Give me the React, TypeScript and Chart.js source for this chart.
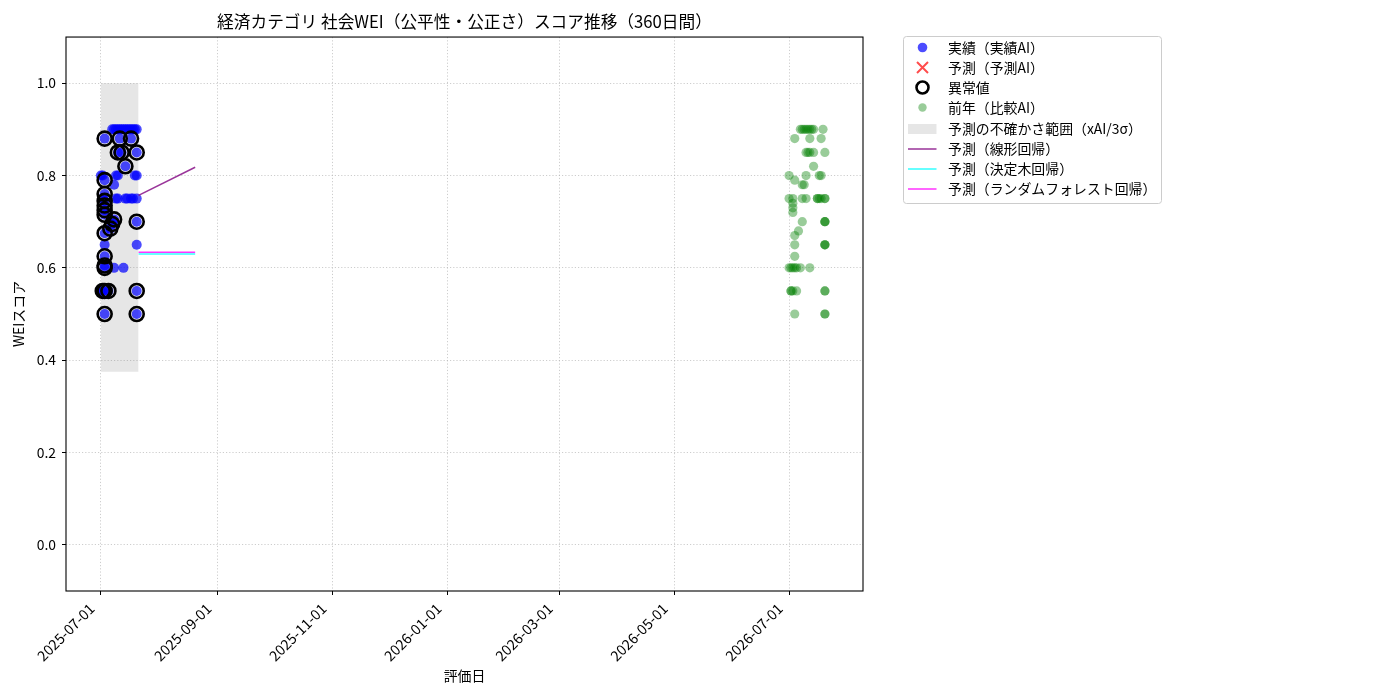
import React, { useEffect, useRef } from 'react';
import { Chart, registerables } from 'chart.js';

Chart.register(...registerables);

const FONT = '"Noto Sans CJK JP", "Noto Sans", sans-serif';

const TITLE = '経済カテゴリ 社会WEI（公平性・公正さ）スコア推移（360日間）';
const X_LABEL = '評価日';
const Y_LABEL = 'WEIスコア';

const X_TICK_DATES = ['2025-07-01', '2025-09-01', '2025-11-01', '2026-01-01', '2026-03-01', '2026-05-01', '2026-07-01'];
const Y_TICKS = [0, 0.2, 0.4, 0.6, 0.8, 1.0];
const X_MIN = '2025-06-12T12:00';
const X_MAX = '2026-08-09T05:00';
const Y_MIN = -0.1;
const Y_MAX = 1.1;

// 実績（実績AI）
const actualDates = [
  '2025-07-01', '2025-07-01',
  '2025-07-02', '2025-07-02', '2025-07-02',
  '2025-07-03', '2025-07-03', '2025-07-03', '2025-07-03', '2025-07-03', '2025-07-03', '2025-07-03',
  '2025-07-03', '2025-07-03', '2025-07-03', '2025-07-03', '2025-07-03', '2025-07-03', '2025-07-03',
  '2025-07-05',
  '2025-07-06',
  '2025-07-07', '2025-07-07',
  '2025-07-08', '2025-07-08', '2025-07-08', '2025-07-08', '2025-07-08',
  '2025-07-09', '2025-07-09', '2025-07-09',
  '2025-07-10', '2025-07-10', '2025-07-10', '2025-07-10',
  '2025-07-11', '2025-07-11',
  '2025-07-12', '2025-07-12',
  '2025-07-13', '2025-07-13',
  '2025-07-14', '2025-07-14', '2025-07-14',
  '2025-07-15', '2025-07-15',
  '2025-07-16',
  '2025-07-17', '2025-07-17', '2025-07-17',
  '2025-07-18', '2025-07-18',
  '2025-07-19', '2025-07-19',
  '2025-07-20', '2025-07-20', '2025-07-20', '2025-07-20', '2025-07-20', '2025-07-20', '2025-07-20', '2025-07-20',
];
const actualValues = [
  0.80, 0.55,
  0.80, 0.75, 0.55,
  0.88, 0.79, 0.76, 0.745, 0.735, 0.725, 0.715,
  0.675, 0.65, 0.625, 0.605, 0.60, 0.55, 0.50,
  0.55,
  0.685,
  0.90, 0.695,
  0.90, 0.78, 0.705, 0.70, 0.60,
  0.90, 0.80, 0.75,
  0.90, 0.85, 0.80, 0.75,
  0.90, 0.88,
  0.90, 0.85,
  0.90, 0.60,
  0.90, 0.82, 0.75,
  0.90, 0.75,
  0.90,
  0.90, 0.88, 0.75,
  0.90, 0.75,
  0.90, 0.80,
  0.90, 0.85, 0.80, 0.75, 0.70, 0.65, 0.55, 0.50,
];

// 予測（予測AI）— no points visible
const predictedDates: string[] = [];
const predictedValues: number[] = [];

// 異常値
const outlierDates = [
  '2025-07-02',
  '2025-07-03', '2025-07-03', '2025-07-03', '2025-07-03', '2025-07-03', '2025-07-03', '2025-07-03',
  '2025-07-03', '2025-07-03', '2025-07-03', '2025-07-03', '2025-07-03', '2025-07-03',
  '2025-07-05', '2025-07-06', '2025-07-07', '2025-07-08',
  '2025-07-10', '2025-07-11', '2025-07-12', '2025-07-14', '2025-07-17',
  '2025-07-20', '2025-07-20', '2025-07-20', '2025-07-20',
];
const outlierValues = [
  0.55,
  0.88, 0.79, 0.76, 0.745, 0.735, 0.725, 0.715,
  0.675, 0.625, 0.605, 0.60, 0.55, 0.50,
  0.55, 0.685, 0.695, 0.705,
  0.85, 0.88, 0.85, 0.82, 0.88,
  0.85, 0.70, 0.55, 0.50,
];

// 前年（比較AI）
const prevDates = [
  '2026-07-01', '2026-07-01', '2026-07-01',
  '2026-07-02', '2026-07-02', '2026-07-02',
  '2026-07-03', '2026-07-03', '2026-07-03', '2026-07-03', '2026-07-03', '2026-07-03',
  '2026-07-04', '2026-07-04', '2026-07-04', '2026-07-04', '2026-07-04', '2026-07-04', '2026-07-04',
  '2026-07-05', '2026-07-05',
  '2026-07-06',
  '2026-07-07', '2026-07-07',
  '2026-07-08', '2026-07-08', '2026-07-08', '2026-07-08',
  '2026-07-09', '2026-07-09',
  '2026-07-10', '2026-07-10', '2026-07-10', '2026-07-10',
  '2026-07-11', '2026-07-11',
  '2026-07-12', '2026-07-12', '2026-07-12', '2026-07-12',
  '2026-07-13',
  '2026-07-14', '2026-07-14', '2026-07-14',
  '2026-07-16', '2026-07-16',
  '2026-07-17', '2026-07-17',
  '2026-07-18', '2026-07-18', '2026-07-18',
  '2026-07-19',
  '2026-07-20', '2026-07-20', '2026-07-20', '2026-07-20', '2026-07-20', '2026-07-20', '2026-07-20',
  '2026-07-20', '2026-07-20', '2026-07-20', '2026-07-20', '2026-07-20', '2026-07-20',
];
const prevValues = [
  0.80, 0.75, 0.60,
  0.60, 0.55, 0.55,
  0.75, 0.74, 0.73, 0.72, 0.60, 0.55,
  0.88, 0.79, 0.67, 0.65, 0.625, 0.60, 0.50,
  0.60, 0.55,
  0.68,
  0.90, 0.60,
  0.90, 0.78, 0.75, 0.70,
  0.90, 0.78,
  0.90, 0.85, 0.80, 0.75,
  0.90, 0.85,
  0.90, 0.88, 0.85, 0.60,
  0.90,
  0.90, 0.85, 0.82,
  0.75, 0.75,
  0.80, 0.75,
  0.88, 0.80, 0.75,
  0.90,
  0.85, 0.75, 0.75, 0.70, 0.70, 0.70, 0.65,
  0.65, 0.65, 0.55, 0.55, 0.50, 0.50,
];

// 予測の不確かさ範囲（xAI/3σ）
const bandDates = ['2025-07-01', '2025-07-21'];
const bandUpper = [1.0, 1.0];
const bandLower = 0.375;

// 予測ライン
const forecastDates = ['2025-07-21', '2025-08-20'];
const linearValues = [0.757, 0.818];
const treeValues = [0.630, 0.630];
const forestValues = [0.634, 0.634];

const LEGEND_LABELS = [
  '実績（実績AI）',
  '予測（予測AI）',
  '異常値',
  '前年（比較AI）',
  '予測の不確かさ範囲（xAI/3σ）',
  '予測（線形回帰）',
  '予測（決定木回帰）',
  '予測（ランダムフォレスト回帰）',
];

const C_BLUE = 'rgba(0,0,255,0.7)';
const C_RED = 'rgba(255,0,0,0.7)';
const C_GREEN = 'rgba(0,128,0,0.4)';
const C_BAND = 'rgba(128,128,128,0.2)';
const C_PURPLE = 'rgba(128,0,128,0.8)';
const C_CYAN = 'rgba(0,255,255,0.8)';
const C_MAGENTA = 'rgba(255,0,255,0.8)';

const ts = (d: string) => Date.parse(d.length > 10 ? d + ':00Z' : d + 'T00:00:00Z');
const pts = (dates: string[], vals: number[]) => dates.map((d, i) => ({ x: ts(d), y: vals[i] }));
const fmtDate = (v: number) => new Date(v).toISOString().slice(0, 10);

const framePlugin = {
  id: 'frame',
  afterDatasetsDraw(chart: any) {
    const { ctx, chartArea } = chart;
    const { left, top, right, bottom } = chartArea;
    ctx.save();
    ctx.strokeStyle = '#000';
    ctx.lineWidth = 1.1;
    ctx.strokeRect(left, top, right - left, bottom - top);
    ctx.restore();
  },
};

const legendPlugin = {
  id: 'mplLegend',
  afterDraw(chart: any) {
    const ctx = chart.ctx as CanvasRenderingContext2D;
    ctx.save();
    const x0 = 903.5, y0 = 36.5, w = 258, h = 167;
    ctx.beginPath();
    (ctx as any).roundRect(x0, y0, w, h, 3);
    ctx.fillStyle = 'rgba(255,255,255,0.8)';
    ctx.fill();
    ctx.strokeStyle = '#cccccc';
    ctx.lineWidth = 1;
    ctx.stroke();

    const mx = 922.5;
    const lx0 = 908, lx1 = 936.5;
    const rowY = (i: number) => 47.5 + 20 * i + (i >= 4 ? 1.5 : 0);
    LEGEND_LABELS.forEach((label, i) => {
      const y = rowY(i);
      ctx.save();
      if (i === 0 || i === 3) {
        ctx.beginPath();
        ctx.arc(mx, y, i === 0 ? 4.8 : 4.2, 0, Math.PI * 2);
        ctx.fillStyle = i === 0 ? C_BLUE : C_GREEN;
        ctx.fill();
      } else if (i === 1) {
        ctx.strokeStyle = C_RED;
        ctx.lineWidth = 2;
        ctx.beginPath();
        ctx.moveTo(mx - 5.5, y - 5.5); ctx.lineTo(mx + 5.5, y + 5.5);
        ctx.moveTo(mx + 5.5, y - 5.5); ctx.lineTo(mx - 5.5, y + 5.5);
        ctx.stroke();
      } else if (i === 2) {
        ctx.strokeStyle = '#000';
        ctx.lineWidth = 2.6;
        ctx.beginPath();
        ctx.arc(mx, y, 6, 0, Math.PI * 2);
        ctx.stroke();
      } else if (i === 4) {
        ctx.fillStyle = C_BAND;
        ctx.fillRect(lx0, y - 5, lx1 - lx0, 10);
      } else {
        ctx.strokeStyle = i === 5 ? C_PURPLE : i === 6 ? C_CYAN : C_MAGENTA;
        ctx.lineWidth = 1.5;
        ctx.beginPath();
        ctx.moveTo(lx0, y); ctx.lineTo(lx1, y);
        ctx.stroke();
      }
      ctx.restore();
      ctx.fillStyle = '#000';
      ctx.font = `13.9px ${FONT}`;
      ctx.textAlign = 'left';
      ctx.textBaseline = 'middle';
      ctx.fillText(label, 948, y);
    });
    ctx.restore();
  },
};

export default function App() {
  const ref = useRef<HTMLCanvasElement>(null);
  useEffect(() => {
    const canvas = ref.current;
    if (!canvas) return;
    const tickFont = { family: FONT, size: 13.9 };
    const xTickFont = { family: FONT, size: 14.4 };
    const chart = new Chart(canvas, {
      type: 'scatter',
      data: {
        datasets: [
          {
            type: 'line',
            label: LEGEND_LABELS[4],
            data: pts(bandDates, bandUpper),
            fill: { value: bandLower },
            backgroundColor: C_BAND,
            borderColor: 'transparent',
            borderWidth: 0,
            pointRadius: 0,
            order: 10,
          } as any,
          {
            label: LEGEND_LABELS[0],
            data: pts(actualDates, actualValues),
            backgroundColor: C_BLUE,
            borderWidth: 0,
            pointRadius: 5,
            order: 8,
          },
          {
            label: LEGEND_LABELS[1],
            data: pts(predictedDates, predictedValues),
            pointStyle: 'crossRot',
            borderColor: C_RED,
            borderWidth: 2,
            pointRadius: 6,
            order: 7,
          },
          {
            label: LEGEND_LABELS[3],
            data: pts(prevDates, prevValues),
            backgroundColor: C_GREEN,
            borderWidth: 0,
            pointRadius: 4.6,
            order: 6,
          },
          {
            label: LEGEND_LABELS[2],
            data: pts(outlierDates, outlierValues),
            backgroundColor: 'transparent',
            borderColor: '#000',
            borderWidth: 2.6,
            pointRadius: 7,
            order: 5,
          },
          {
            type: 'line',
            label: LEGEND_LABELS[5],
            data: pts(forecastDates, linearValues),
            borderColor: C_PURPLE,
            borderWidth: 1.5,
            pointRadius: 0,
            fill: false,
            order: 3,
          } as any,
          {
            type: 'line',
            label: LEGEND_LABELS[6],
            data: pts(forecastDates, treeValues),
            borderColor: C_CYAN,
            borderWidth: 1.5,
            pointRadius: 0,
            fill: false,
            order: 2,
          } as any,
          {
            type: 'line',
            label: LEGEND_LABELS[7],
            data: pts(forecastDates, forestValues),
            borderColor: C_MAGENTA,
            borderWidth: 1.5,
            pointRadius: 0,
            fill: false,
            order: 1,
          } as any,
        ],
      },
      options: {
        responsive: false,
        animation: false,
        events: [],
        layout: { padding: { top: 0, right: 537, bottom: 0, left: 0 } },
        plugins: {
          legend: { display: false },
          tooltip: { enabled: false },
          title: {
            display: true,
            text: TITLE,
            fullSize: false,
            color: '#000',
            font: { family: FONT, size: 16.7, weight: 'normal' },
            padding: { top: 12, bottom: 5 },
          },
        },
        scales: {
          x: {
            type: 'linear',
            min: ts(X_MIN),
            max: ts(X_MAX),
            afterBuildTicks: (axis: any) => {
              axis.ticks = X_TICK_DATES.map((d) => ({ value: ts(d) }));
            },
            afterFit: (axis: any) => {
              axis.height = 109;
            },
            ticks: {
              autoSkip: false,
              maxRotation: 45,
              minRotation: 45,
              padding: 5,
              labelOffset: -9,
              color: '#000',
              font: xTickFont,
              callback: (v: any) => fmtDate(Number(v)),
            },
            grid: {
              color: 'rgba(176,176,176,0.8)',
              lineWidth: 0.8,
              drawTicks: true,
              tickLength: 4,
              tickColor: '#000',
              tickWidth: 1,
            },
            border: { display: false, dash: [1.2, 2] },
            title: {
              display: true,
              text: X_LABEL,
              color: '#000',
              font: tickFont,
              padding: { top: 0, bottom: 16 },
            },
          },
          y: {
            type: 'linear',
            min: Y_MIN,
            max: Y_MAX,
            afterBuildTicks: (axis: any) => {
              axis.ticks = Y_TICKS.map((v) => ({ value: v }));
            },
            afterFit: (axis: any) => {
              axis.width = 66;
            },
            ticks: {
              padding: 6,
              color: '#000',
              font: tickFont,
              callback: (v: any) => Number(v).toFixed(1),
            },
            grid: {
              color: 'rgba(176,176,176,0.8)',
              lineWidth: 0.8,
              drawTicks: true,
              tickLength: 4,
              tickColor: '#000',
              tickWidth: 1,
            },
            border: { display: false, dash: [1.2, 2] },
            title: {
              display: true,
              text: Y_LABEL,
              color: '#000',
              font: tickFont,
              padding: { top: 10, bottom: 0 },
            },
          },
        },
      },
      plugins: [framePlugin, legendPlugin],
    } as any);
    return () => chart.destroy();
  }, []);

  return (
    <div style={{ position: 'absolute', left: 0, top: 0, width: 1400, height: 700, background: '#fff' }}>
      <canvas ref={ref} width={1400} height={700} style={{ display: 'block', width: 1400, height: 700 }} />
    </div>
  );
}
